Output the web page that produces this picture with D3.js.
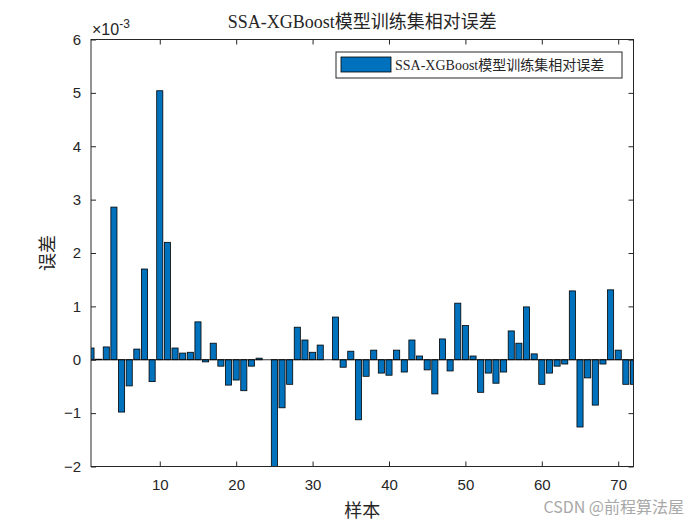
<!DOCTYPE html>
<html>
<head>
<meta charset="utf-8">
<style>
  body { margin: 0; background: #fff; }
  svg text { fill: #262626; }
  .tick-lbl { font-family: "Liberation Sans", Arial, sans-serif; font-size: 15px; }
  .serif { font-family: "Liberation Serif", "Times New Roman", "Noto Sans CJK SC", serif; }
</style>
<title>SSA-XGBoost</title>
</head>
<body>
<script src="https://cdn.jsdelivr.net/npm/d3@7"></script>
<script>
// relative error of each training sample, in units of 1e-3
var errors = [0.22, 0.01, 0.24, 2.86, -0.98, -0.49, 0.20, 1.70, -0.41, 5.04,
  2.20, 0.22, 0.125, 0.14, 0.71, -0.04, 0.31, -0.12, -0.475, -0.38,
  -0.58, -0.12, 0.03, 0.0, -2.0, -0.90, -0.46, 0.61, 0.37, 0.14,
  0.275, 0.0, 0.80, -0.14, 0.16, -1.125, -0.31, 0.18, -0.25, -0.29,
  0.18, -0.23, 0.37, 0.07, -0.19, -0.64, 0.39, -0.21, 1.06, 0.64,
  0.07, -0.61, -0.25, -0.44, -0.23, 0.54, 0.31, 0.99, 0.11, -0.46,
  -0.25, -0.12, -0.08, 1.29, -1.26, -0.34, -0.85, -0.08, 1.31, 0.18,
  -0.46, -0.46];
var xTicks = [10, 20, 30, 40, 50, 60, 70];
var yTicks = [-2, -1, 0, 1, 2, 3, 4, 5, 6];
var titleText = "SSA-XGBoost模型训练集相对误差";
var legendText = "SSA-XGBoost模型训练集相对误差";

var W = 700, H = 525;
var margin = {left: 91, top: 39.5, right: 700 - 633.5, bottom: 525 - 466.5};
var width = W - margin.left - margin.right;
var height = H - margin.top - margin.bottom;

var data = errors.map(function(v, i){ return {i: i + 1, v: v}; });

var x = d3.scaleLinear().domain([1, 72]).range([0, width]);
var y = d3.scaleLinear().domain([-2, 6]).range([height, 0]);
var bw = x(1.8) - x(1);

var svg = d3.select("body").append("svg")
  .attr("width", W).attr("height", H);

svg.append("defs").append("clipPath").attr("id", "clip")
  .append("rect").attr("width", width).attr("height", height);

var g = svg.append("g")
  .attr("transform", "translate(" + margin.left + "," + margin.top + ")");

var bars = g.append("g").attr("clip-path", "url(#clip)");
bars.selectAll("rect").data(data).enter().append("rect")
  .attr("x", function(d){ return x(d.i) - bw / 2; })
  .attr("y", function(d){ return y(Math.max(0, d.v)); })
  .attr("width", bw)
  .attr("height", function(d){ return Math.abs(y(d.v) - y(0)); })
  .attr("fill", "#0072BD")
  .attr("stroke", "#000")
  .attr("stroke-width", 0.8);

// baseline
bars.append("line")
  .attr("x1", 0).attr("x2", width)
  .attr("y1", y(0)).attr("y2", y(0))
  .attr("stroke", "#000").attr("stroke-width", 0.8);

// axes, ticks pointing inward like matlab
var tk = 5;
var axisCol = "#262626";
var xb = g.append("g").attr("transform", "translate(0," + height + ")")
  .call(d3.axisBottom(x).tickValues(xTicks).tickSizeInner(-tk).tickSizeOuter(0).tickPadding(13));
var xt = g.append("g")
  .call(d3.axisTop(x).tickValues(xTicks).tickSizeInner(-tk).tickSizeOuter(0).tickFormat(""));
var yl = g.append("g")
  .call(d3.axisLeft(y).tickValues(yTicks).tickSizeInner(-tk).tickSizeOuter(0).tickPadding(10));
var yr = g.append("g").attr("transform", "translate(" + width + ",0)")
  .call(d3.axisRight(y).tickValues(yTicks).tickSizeInner(-tk).tickSizeOuter(0).tickFormat(""));
[xb, xt, yl, yr].forEach(function(a){
  a.selectAll("path, line").attr("stroke", axisCol);
  a.selectAll("text").attr("class", "tick-lbl").attr("font-size", null).attr("font-family", null);
  a.select(".domain").remove();
});
g.append("rect").attr("width", width).attr("height", height)
  .attr("fill", "none").attr("stroke", axisCol).attr("stroke-width", 1);

// exponent label
var ex = g.append("text").attr("class", "tick-lbl").attr("x", 1).attr("y", -5)
  .style("font-size", "16px");
ex.append("tspan").text("\u00d710");
ex.append("tspan").attr("dy", -7).style("font-size", "12px").text("-3");

// title and labels
svg.append("text").attr("class", "serif")
  .attr("x", margin.left + width / 2).attr("y", 28)
  .attr("text-anchor", "middle").attr("font-size", 18)
  .text(titleText);
svg.append("text").attr("class", "serif")
  .attr("x", margin.left + width / 2).attr("y", 517)
  .attr("text-anchor", "middle").attr("font-size", 18)
  .text("样本");
svg.append("text").attr("class", "serif")
  .attr("transform", "translate(54," + (margin.top + height / 2) + ") rotate(-90)")
  .attr("text-anchor", "middle").attr("font-size", 18)
  .text("误差");

// legend
var lg = g.append("g").attr("transform", "translate(" + (336 - margin.left) + "," + (52 - margin.top) + ")");
lg.append("rect").attr("width", 286).attr("height", 26)
  .attr("fill", "#fff").attr("stroke", axisCol).attr("stroke-width", 1);
lg.append("rect").attr("x", 5).attr("y", 5).attr("width", 50).attr("height", 15)
  .attr("fill", "#0072BD").attr("stroke", "#000").attr("stroke-width", 0.8);
lg.append("text").attr("class", "serif").attr("x", 59).attr("y", 18)
  .attr("font-size", 14).text(legendText);

// watermark
svg.append("text")
  .attr("x", 684).attr("y", 513).attr("text-anchor", "end")
  .attr("font-family", "'Noto Sans CJK SC', sans-serif").attr("font-size", 16)
  .style("fill", "#a8a8a8")
  .text("CSDN @前程算法屋");
</script>
</body>
</html>
